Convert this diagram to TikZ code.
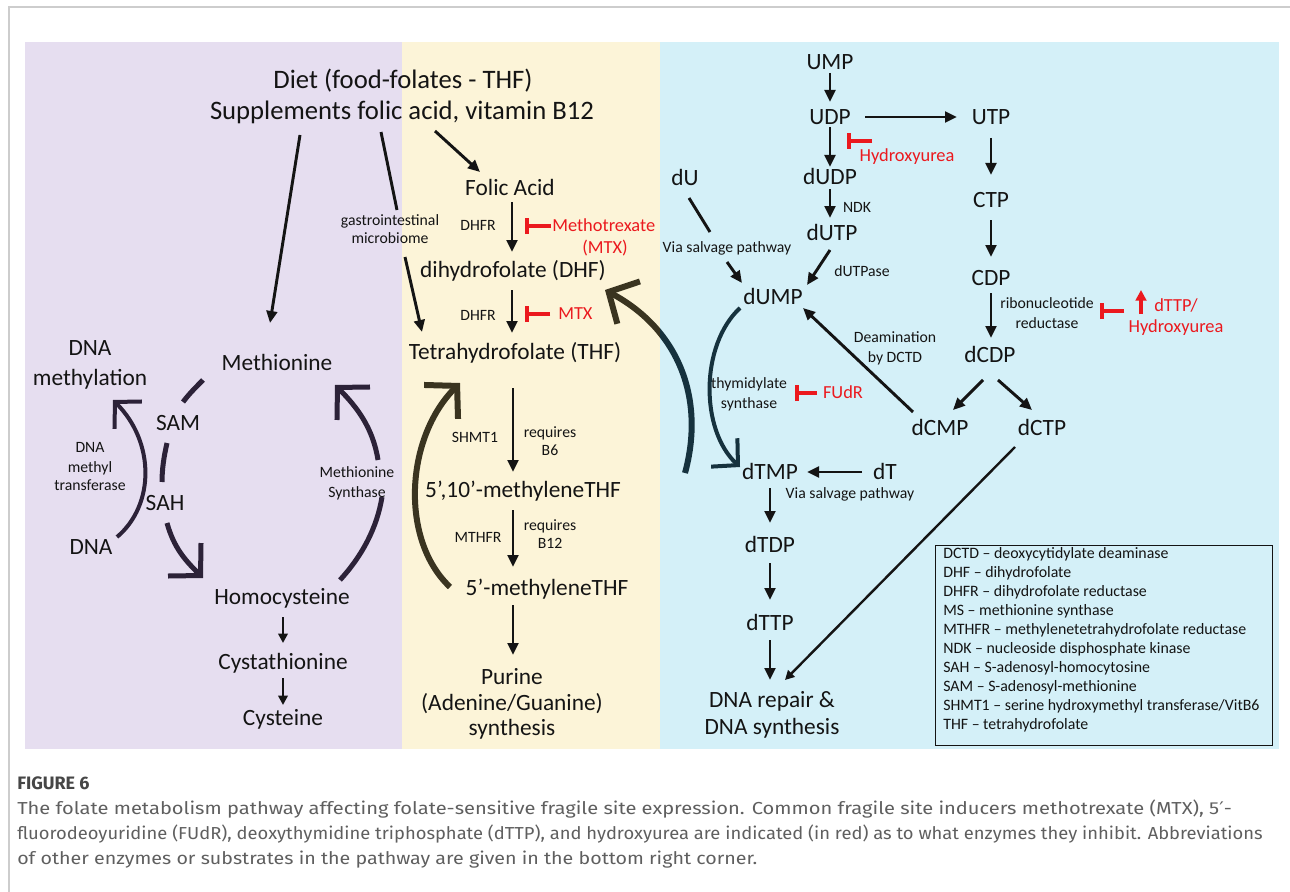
\documentclass[tikz,border=0pt]{standalone}
\usepackage{fontspec}
\usepackage{graphicx}
\setmainfont{Carlito}
\newfontfamily\capfont{Fira Sans}
\newfontfamily\dejavu{DejaVu Sans}
\usetikzlibrary{arrows.meta,calc}
\definecolor{purp}{RGB}{230,222,240}
\definecolor{cream}{RGB}{252,244,216}
\definecolor{sky}{RGB}{212,240,248}
\definecolor{ink}{RGB}{20,20,20}
\definecolor{inh}{RGB}{235,25,30}
\definecolor{darkP}{RGB}{44,34,56}
\definecolor{darkY}{RGB}{58,52,32}
\definecolor{darkB}{RGB}{22,50,62}
\definecolor{framegray}{RGB}{205,205,205}
\definecolor{capgray}{RGB}{95,95,95}
\definecolor{figgray}{RGB}{70,70,70}
\begin{document}
\begin{tikzpicture}[x=0.75pt,y=-0.75pt,
  every node/.style={inner sep=0pt,text=ink},
  topl/.style={font=\fontsize{20}{22}\selectfont,text height=13pt,text depth=0pt},
  big/.style={font=\fontsize{17.5}{19}\selectfont,text height=11.4pt,text depth=0pt},
  sm/.style={font=\fontsize{11.8}{13}\selectfont,text height=7.6pt,text depth=0pt},
  redl/.style={font=\fontsize{13.8}{15}\selectfont,text height=8.9pt,text depth=0pt,text=inh},
  legl/.style={font=\fontsize{11.9}{13}\selectfont,text height=7.7pt,text depth=0pt,anchor=west},
  capl/.style={font=\capfont\fontsize{13}{15}\selectfont,text=capgray,anchor=west,text height=9.3pt,text depth=0pt},
  arr/.style={draw=ink,line width=2.2pt,-{Triangle[length=9pt,width=8pt]}},
  arrs/.style={draw=ink,line width=1.8pt,-{Triangle[length=7pt,width=7pt]}},
  plainl/.style={draw=ink,line width=2.2pt},
  fatarc/.style={line width=4.5pt,-{Straight Barb[length=17pt,width=36pt]}},
  medarc/.style={line width=3.75pt,-{Straight Barb[length=17pt,width=35pt]}},
  thinarc/.style={line width=3pt,-{Straight Barb[length=14pt,width=29pt]}},
  inhib/.style={draw=inh,line width=2.4pt,-{Bar[width=12pt,line width=3.2pt]}},
]
\useasboundingbox (0,0) rectangle (1290,892);
\fill[white] (0,0) rectangle (1290,892);
\draw[framegray,line width=1.1pt] (9,892) -- (9,7) -- (1290,7);
% panels
\fill[purp] (25,42) rectangle (402,749);
\fill[cream] (402,42) rectangle (660,749);
\fill[sky] (660,42) rectangle (1279,749);

% ---------- text nodes ----------
\node[topl] (diet) at (403,80) {Diet (food-folates - THF)};
\node[topl] (supp) at (402,111) {Supplements folic acid, vitamin B12};

\node[big] (dnam1) at (90,348) {DNA};
\node[big] (dnam2) at (90,378) {methylation};
\node[big] (meth) at (277,363) {Methionine};
\node[big] (sam) at (178,423) {SAM};
\node[big] (sah) at (165,503) {SAH};
\node[sm] (dmt1) at (90,447) {DNA};
\node[sm] (dmt2) at (90,467) {methyl};
\node[sm] (dmt3) at (90,485) {transferase};
\node[big] (dna) at (91,547) {DNA};
\node[sm] (ms1) at (357,472) {Methionine};
\node[sm] (ms2) at (357,492) {Synthase};
\node[big] (hcy) at (282,597) {Homocysteine};
\node[big] (cysta) at (283,662) {Cystathionine};
\node[big] (cys) at (283,718) {Cysteine};
\node[sm] (gi1) at (390,220) {gastrointestinal};
\node[sm] (gi2) at (390,238) {microbiome};

\node[big] (folic) at (510,188) {Folic Acid};
\node[sm] (dhfr1) at (478,225) {DHFR};
\node[redl,anchor=west] (mtxa) at (552,226) {Methotrexate};
\node[redl] (mtxb) at (605,248) {(MTX)};
\node[big] (dhf) at (513,270) {dihydrofolate (DHF)};
\node[sm] (dhfr2) at (478,315) {DHFR};
\node[redl,anchor=west] (mtxc) at (558,314) {MTX};
\node[big] (thf) at (515,352) {Tetrahydrofolate (THF)};
\node[sm] (shmt) at (475,437) {SHMT1};
\node[sm] (rq1) at (550,432) {requires};
\node[sm] (rq1b) at (550,450) {B6};
\node[big] (mthf1) at (523,490) {5’,10’-methyleneTHF};
\node[sm] (mthfr) at (478,537) {MTHFR};
\node[sm] (rq2) at (550,525) {requires};
\node[sm] (rq2b) at (550,543) {B12};
\node[big] (mthf2) at (547,588) {5’-methyleneTHF};
\node[big] (pur1) at (512,677) {Purine};
\node[big] (pur2) at (512,703) {(Adenine/Guanine)};
\node[big] (pur3) at (512,728) {synthesis};

\node[big] (ump) at (830,62) {UMP};
\node[big] (udp) at (830,117) {UDP};
\node[big] (utp) at (991,117) {UTP};
\node[redl] (hyd1) at (907,156) {Hydroxyurea};
\node[big] (dudp) at (830,177) {dUDP};
\node[sm] (ndk) at (857,207) {NDK};
\node[big] (dutp) at (832,233) {dUTP};
\node[sm] (dutpase) at (862,271) {dUTPase};
\node[big] (du) at (685,178) {dU};
\node[sm] (via1) at (727,247) {Via salvage pathway};
\node[big] (dump) at (773,297) {dUMP};
\node[sm] (deam1) at (895,337) {Deamination};
\node[sm] (deam2) at (895,357) {by DCTD};
\node[big] (ctp) at (991,200) {CTP};
\node[big] (cdp) at (991,278) {CDP};
\node[sm] (ribo1) at (1047,303) {ribonucleotide};
\node[sm] (ribo2) at (1047,323) {reductase};
\node[redl,anchor=west] (dttpr) at (1154,306) {dTTP/};
\node[redl] (hyd2) at (1176,327) {Hydroxyurea};
\node[big] (dcdp) at (990,355) {dCDP};
\node[big] (dcmp) at (940,428) {dCMP};
\node[big] (dctp) at (1042,428) {dCTP};
\node[sm] (thy1) at (749,383) {thymidylate};
\node[sm] (thy2) at (749,403) {synthase};
\node[redl] (fudr) at (843,393) {FUdR};
\node[big] (dtmp) at (770,472) {dTMP};
\node[big] (dt) at (885,472) {dT};
\node[sm] (via2) at (850,493) {Via salvage pathway};
\node[big] (dtdp) at (770,545) {dTDP};
\node[big] (dttp) at (770,623) {dTTP};
\node[big] (rep1) at (772,700) {DNA repair \&};
\node[big] (rep2) at (772,727) {DNA synthesis};

% legend
\node[draw=ink,line width=1.1pt,minimum width=337*0.75pt,minimum height=200*0.75pt,anchor=north west] (legbox) at (935,545) {};
\node[legl] (lg1) at (943,553) {DCTD – deoxycytidylate deaminase};
\node[legl] (lg2) at (943,572) {DHF – dihydrofolate};
\node[legl] (lg3) at (943,591) {DHFR – dihydrofolate reductase};
\node[legl] (lg4) at (943,610) {MS – methionine synthase};
\node[legl] (lg5) at (943,629) {MTHFR – methylenetetrahydrofolate reductase};
\node[legl] (lg6) at (943,648) {NDK – nucleoside disphosphate kinase};
\node[legl] (lg7) at (943,667) {SAH – S-adenosyl-homocytosine};
\node[legl] (lg8) at (943,686) {SAM – S-adenosyl-methionine};
\node[legl] (lg9) at (943,705) {SHMT1 – serine hydroxymethyl transferase/VitB6};
\node[legl] (lg10) at (943,724) {THF – tetrahydrofolate};

% caption
\node[capl,font=\capfont\bfseries\fontsize{13.5}{15}\selectfont,text=figgray] (figlab) at (17,783) {FIGURE 6};
\node[capl] (cap1) at (17,808) {\resizebox{911pt}{\height}{The folate metabolism pathway affecting folate-sensitive fragile site expression. Common fragile site inducers methotrexate (MTX), 5{\dejavu ′}-}};
\node[capl] (cap2) at (17,833) {\resizebox{934pt}{\height}{fluorodeoyuridine (FUdR), deoxythymidine triphosphate (dTTP), and hydroxyurea are indicated (in red) as to what enzymes they inhibit. Abbreviations}};
\node[capl] (cap3) at (17,858) {\resizebox{555pt}{\height}{of other enzymes or substrates in the pathway are given in the bottom right corner.}};

% ---------- straight connectors ----------
\draw[arr] ($(supp)+(-102,24)$) -- ($(meth)+(-7,-40)$);
\draw[plainl] ($(supp)+(-21,21)$) -- ($(gi1)+(7,-10)$);
\draw[arr] ($(gi2)+(15,19)$) -- ($(thf)+(-93,-20)$);
\draw[arr] ($(supp)+(33,20)$) -- ($(folic)+(-30,-16)$);
\draw[arr] ($(folic)+(2,14)$) -- ($(dhf)+(-1,-18)$);
\draw[arr] ($(dhf)+(-1,20)$) -- ($(thf)+(-3,-19)$);
\draw[arr] ($(thf)+(-2,36)$) -- ($(mthf1)+(-10,-18)$);
\draw[arr] ($(mthf1)+(-10,20)$) -- ($(mthf2)+(-34,-21)$);
\draw[arr] ($(mthf2)+(-34,17)$) -- ($(pur1)+(1,-22)$);
\draw[arrs] ($(hcy)+(1,20)$) -- ($(cysta)+(0,-19)$);
\draw[arrs] ($(cysta)+(0,16)$) -- ($(cys)+(0,-13)$);

\draw[arr] ($(ump)+(0,11)$) -- ($(udp)+(0,-15)$);
\draw[arr] ($(udp)+(35,0)$) -- ($(utp)+(-34,0)$);
\draw[arr] ($(udp)+(0,10)$) -- ($(dudp)+(0,-10)$);
\draw[arr] ($(dudp)+(0,12)$) -- ($(dutp)+(-2,-15)$);
\draw[arr] ($(dutp)+(-2,17)$) -- ($(dump)+(34,-12)$);
\draw[plainl] ($(du)+(4,20)$) -- ($(via1)+(-17,-15)$);
\draw[arr] ($(via1)+(0,15)$) -- ($(dump)+(-31,-14)$);
\draw[arr] ($(dcmp)+(-27,-16)$) -- ($(dump)+(30,11)$);
\draw[arr] ($(utp)+(0,21)$) -- ($(ctp)+(0,-25)$);
\draw[arr] ($(ctp)+(0,20)$) -- ($(cdp)+(0,-21)$);
\draw[arr] ($(cdp)+(0,15)$) -- ($(dcdp)+(1,-17)$);
\draw[arr] ($(dcdp)+(-7,25)$) -- ($(dcmp)+(13,-18)$);
\draw[arr] ($(dcdp)+(8,25)$) -- ($(dctp)+(-10,-18)$);
\draw[arr] ($(dt)+(-23,0)$) -- ($(dtmp)+(37,0)$);
\draw[arr] ($(dtmp)+(0,16)$) -- ($(dtdp)+(0,-22)$);
\draw[arr] ($(dtdp)+(0,18)$) -- ($(dttp)+(0,-23)$);
\draw[arr] ($(dttp)+(0,17)$) -- ($(rep1)+(-2,-20)$);
\draw[arrs] ($(dctp)+(-27,19)$) -- ($(rep1)+(13,-20)$);

% ---------- inhibitors ----------
\draw[inhib] ($(mtxa.west)+(-1,0)$) -- ++(-26,0);
\draw[inhib] ($(mtxc.west)+(-8,0)$) -- ++(-25,0);
\draw[inhib] ($(hyd1)+(-35,-15)$) -- ++(-25,0);
\draw[inhib] ($(fudr)+(-26,0)$) -- ++(-22,0);
\draw[inhib] ($(dttpr.west)+(-30,5)$) -- ++(-24,0);
\draw[draw=inh,line width=2.6pt,-{Triangle[length=8pt,width=8pt]}] ($(dttpr.west)+(-13,8)$) -- ++(0,-24);

% ---------- curved thick arrows ----------
\draw[darkP,medarc,-] ($(meth)+(-74,17)$) .. controls (196,387) and (189,394) .. ($(sam)+(5,-21)$);
\draw[darkP,medarc,-] ($(sam)+(-11,20)$) .. controls (164,456) and (162,469) .. ($(sah)+(-3,-21)$);
\draw[darkP,medarc] ($(sah)+(2,20)$) .. controls (174,548) and (185,560) .. ($(hcy)+(-79,-19)$);
\draw[darkP,thinarc] ($(dna)+(26,-10)$) .. controls (155,505) and (155,442) .. ($(dnam2)+(23,22)$);
\draw[darkP,medarc,-] ($(hcy)+(58,-17)$) .. controls (362,556) and (377,528) .. ($(ms2)+(25,5)$);
\draw[darkP,medarc] ($(ms1)+(21,-12)$) .. controls (373,428) and (357,407) .. ($(meth)+(58,22)$);
\draw[darkY,fatarc] ($(mthf2)+(-97,-1)$) .. controls (400,540) and (405,438) .. ($(thf)+(-55,31)$);
\begin{scope}
\clip (402,0) rectangle (660,892);
\draw[darkY,fatarc] ($(dtmp)+(-85,1)$) .. controls (705,400) and (680,330) .. ($(dhf)+(92,20)$);
\end{scope}
\begin{scope}
\clip (660,0) rectangle (1290,892);
\draw[darkB,fatarc] ($(dtmp)+(-85,1)$) .. controls (705,400) and (680,330) .. ($(dhf)+(92,20)$);
\end{scope}
\draw[darkB,thinarc] ($(dump)+(-33,11)$) .. controls (700,345) and (700,430) .. ($(dtmp)+(-30,-5)$);
\end{tikzpicture}
\end{document}
